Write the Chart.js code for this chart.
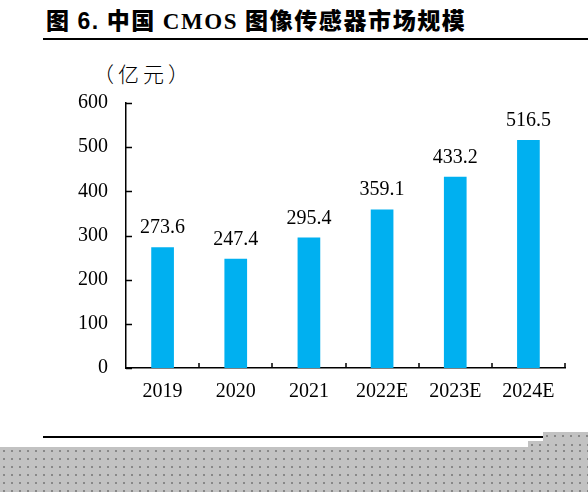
<!DOCTYPE html>
<html>
<head>
<meta charset="utf-8">
<script src="https://cdn.jsdelivr.net/npm/chart.js@4/dist/chart.umd.min.js"></script>
<style>
  html, body { margin: 0; padding: 0; background: #fff; }
  #wrap { position: relative; width: 588px; height: 492px; overflow: hidden; }
  #title {
    position: absolute; left: 46px; top: 2px; white-space: nowrap; letter-spacing: 1.6px;
    font: 900 23px "Noto Sans CJK SC", sans-serif; color: #000;
  }
  #title .num { font-family: "Liberation Sans", Arial, sans-serif; font-weight: bold; }
  #title .en { font-family: "Liberation Serif", "Times New Roman", serif; font-weight: bold; }
  #rule1 { position: absolute; left: 43px; top: 38px; width: 545px; height: 2px; background: #000; }
  #rule2 { position: absolute; left: 43px; top: 436px; width: 500px; height: 2px; background: #000; }
  #unit {
    position: absolute; left: 93px; top: 58px; letter-spacing: 4px;
    font: 300 21px "Noto Sans CJK SC", serif; color: #000;
  }
  .gray {
    position: absolute; background-color: #c2c2c2;
    background-image: radial-gradient(circle, #888 0.8px, transparent 1.1px);
    background-size: 8px 8px;
  }
  canvas { position: absolute; left: 0; top: 0; }
</style>
</head>
<body>
<div id="wrap">
  <div id="title">图 <span class="num">6.</span> 中国 <span class="en">CMOS</span> 图像传感器市场规模</div>
  <div id="rule1"></div>
  <div id="unit">（亿元）</div>
  <canvas id="chart" width="588" height="492"></canvas>
  <div id="rule2"></div>
  <div class="gray" style="left:0;top:447px;width:588px;height:45px;"></div>
  <div class="gray" style="left:528px;top:441px;width:60px;height:6px;"></div>
  <div class="gray" style="left:543px;top:432px;width:45px;height:9px;"></div>
</div>
<script>
// ----- Data -----
const years = ["2019", "2020", "2021", "2022E", "2023E", "2024E"];
const marketSize = [273.6, 247.4, 295.4, 359.1, 433.2, 516.5];
const yTicks = [0, 100, 200, 300, 400, 500, 600];

const serif = "'Liberation Serif', 'Times New Roman', serif";

/**
 * Draws the value above each bar and the short inward tick marks.
 */
const decorPlugin = {
  id: "decor",
  afterDatasetsDraw(chart) {
    const { ctx, scales: { x, y } } = chart;
    const meta = chart.getDatasetMeta(0);

    ctx.save();
    ctx.fillStyle = "#000";
    ctx.font = `20px ${serif}`;
    ctx.textAlign = "center";
    ctx.textBaseline = "alphabetic";
    meta.data.forEach((bar, i) => {
      ctx.fillText(marketSize[i].toFixed(1), bar.x, bar.y - 14);
    });

    // inward tick marks
    ctx.strokeStyle = "#000";
    ctx.lineWidth = 1.5;
    ctx.beginPath();
    yTicks.forEach(v => {
      const py = Math.round(y.getPixelForValue(v)) + 0.5;
      ctx.moveTo(x.left, py);
      ctx.lineTo(x.left + 6, py);
    });
    const step = x.getPixelForValue(1) - x.getPixelForValue(0);
    for (let i = 0; i < years.length; i++) {
      const px = Math.round(x.getPixelForValue(i) + step / 2);
      ctx.moveTo(px, y.bottom);
      ctx.lineTo(px, y.bottom - 5);
    }
    ctx.stroke();
    ctx.restore();
  }
};

document.addEventListener("DOMContentLoaded", () => {
  const ctx = document.getElementById("chart").getContext("2d");

  window.sizeChart = new Chart(ctx, {
    type: "bar",
    data: {
      labels: years,
      datasets: [{
        data: marketSize,
        backgroundColor: "#00B0F0",
        borderWidth: 0,
        categoryPercentage: 1,
        barPercentage: 0.31,
      }]
    },
    options: {
      responsive: false,
      animation: false,
      devicePixelRatio: 1,
      layout: { padding: { left: 0, right: 23, top: 103, bottom: 84 } },
      plugins: {
        legend: { display: false },
        tooltip: { enabled: false },
      },
      scales: {
        x: {
          grid: { display: false, drawTicks: false },
          border: { display: true, color: "#000", width: 1.5 },
          ticks: {
            color: "#000",
            font: { family: serif, size: 20 },
            padding: 12,
            maxRotation: 0,
          },
          afterFit(scale) { scale.height = 40; },
        },
        y: {
          min: 0,
          max: 600,
          afterBuildTicks(scale) { scale.ticks = yTicks.map(v => ({ value: v })); },
          grid: { display: false, drawTicks: false },
          border: { display: true, color: "#000", width: 1.5 },
          ticks: {
            color: "#000",
            font: { family: serif, size: 20 },
            padding: 18,
          },
          afterFit(scale) { scale.width = 126; },
        }
      }
    },
    plugins: [decorPlugin]
  });
});
</script>
</body>
</html>
